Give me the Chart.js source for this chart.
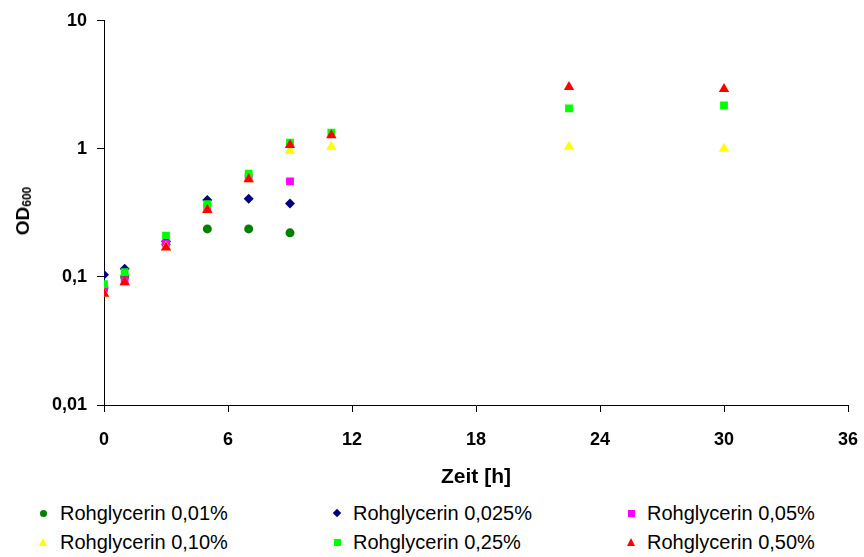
<!DOCTYPE html>
<html>
<head>
<meta charset="utf-8">
<script src="https://cdn.jsdelivr.net/npm/chart.js@4.4.1/dist/chart.umd.min.js"></script>
<style>
  html, body { margin: 0; padding: 0; background: #ffffff; }
  #wrap { position: relative; width: 864px; height: 557px; background: #fff; font-family: "Liberation Sans", Arial, sans-serif; }
  #c { position: absolute; left: 0; top: 0; }
  #ytitle { position: absolute; left: 23px; top: 211px; transform: translate(-50%, -50%) rotate(-90deg); font-weight: bold; font-size: 19px; color: #000; white-space: nowrap; }
  #ytitle sub { font-size: 12px; vertical-align: -2px; }
  .lg { position: absolute; height: 20px; line-height: 20px; font-size: 20px; color: #000; white-space: nowrap; }
  .mk { position: absolute; }
</style>
</head>
<body>
<div id="wrap">
  <canvas id="c" width="864" height="490"></canvas>
  <div id="ytitle">OD<sub>600</sub></div>
  <div id="legend"></div>
</div>
<script>
// ---- data ----
const hours = [0, 1, 3, 5, 7, 9, 11, 22.5, 30];
const seriesNames = ["Rohglycerin 0,01%", "Rohglycerin 0,025%", "Rohglycerin 0,05%", "Rohglycerin 0,10%", "Rohglycerin 0,25%", "Rohglycerin 0,50%"];
const glyc001  = [0.082, 0.100, 0.180, 0.237, 0.237, 0.221, null, null, null];
const glyc0025 = [0.104, 0.116, 0.190, 0.399, 0.408, 0.375, null, null, null];
const glyc005  = [0.081, 0.094, 0.181, 0.350, 0.600, 0.557, null, null, null];
const glyc010  = [0.074, 0.090, 0.172, 0.335, 0.580, 0.965, 1.04, 1.04, 1.00];
const glyc025  = [0.088, 0.109, 0.210, 0.370, 0.640, 1.12, 1.34, 2.07, 2.19];
const glyc050  = [0.074, 0.091, 0.170, 0.333, 0.580, 1.07, 1.28, 3.04, 2.94];
const xTicks = [0, 6, 12, 18, 24, 30, 36];
const yTicks = [0.01, 0.1, 1, 10];
const yTickLabels = ["0,01", "0,1", "1", "10"];
const xTitle = "Zeit [h]";

// ---- styles ----
const colors = ["#008000", "#000080", "#FF00FF", "#FFFF00", "#00FF00", "#FF0000"];
const styles = ["circle", "rectRot", "rect", "triangle", "rect", "triangle"];
const radii = [4.5, 5, 5.5, 6, 5.5, 6];
const allSeries = [glyc001, glyc0025, glyc005, glyc010, glyc025, glyc050];

const datasets = allSeries.map((vals, i) => ({
  label: seriesNames[i],
  data: hours.map((h, j) => ({ x: h, y: vals[j] })).filter(p => p.y !== null),
  pointStyle: styles[i],
  pointRadius: radii[i],
  pointHoverRadius: radii[i],
  backgroundColor: colors[i],
  borderColor: colors[i],
  borderWidth: 0,
  showLine: false,
  order: allSeries.length - 1 - i
}));

const tickFont = { family: '"Liberation Sans", Arial, sans-serif', size: 18, weight: 'bold' };

new Chart(document.getElementById('c'), {
  type: 'scatter',
  data: { datasets },
  options: {
    responsive: false,
    animation: false,
    devicePixelRatio: 1,
    layout: { padding: { left: 0, top: 20, right: 16, bottom: 0 } },
    plugins: { legend: { display: false }, tooltip: { enabled: false } },
    scales: {
      x: {
        type: 'linear', min: 0, max: 36,
        afterBuildTicks: s => { s.ticks = xTicks.map(v => ({ value: v })); },
        afterFit: s => { s.height = 85; s.paddingRight = 0; },
        ticks: { color: '#000', font: tickFont, padding: 17, maxRotation: 0, autoSkip: false,
                 callback: v => String(v) },
        grid: { drawOnChartArea: false, drawTicks: true, tickLength: 7, color: '#000' },
        border: { display: true, color: '#000', width: 1 },
        title: { display: true, text: xTitle, color: '#000',
                 font: { family: '"Liberation Sans", Arial, sans-serif', size: 21, weight: 'bold' },
                 padding: { top: 0, bottom: 0 } }
      },
      y: {
        type: 'logarithmic', min: 0.01, max: 10,
        afterBuildTicks: s => { s.ticks = yTicks.map(v => ({ value: v })); },
        afterFit: s => { s.width = 104; },
        ticks: { color: '#000', font: tickFont, padding: 10, autoSkip: false,
                 callback: (v, i) => yTickLabels[yTicks.indexOf(v)] ?? '' },
        grid: { drawOnChartArea: false, drawTicks: true, tickLength: 7, color: '#000' },
        border: { display: true, color: '#000', width: 1 }
      }
    }
  }
});

// ---- HTML legend (3 columns x 2 rows) ----
const colMarkX = [43, 337, 631];
const colTextX = [60, 353, 647];
const rowY = [513, 542];
const legend = document.getElementById('legend');
seriesNames.forEach((name, i) => {
  const col = i % 3, row = Math.floor(i / 3);
  const cx = colMarkX[col], cy = rowY[row];
  const m = document.createElement('div');
  m.className = 'mk';
  const st = styles[i], c = colors[i];
  if (st === 'circle') {
    Object.assign(m.style, { left: (cx - 3.5) + 'px', top: (cy - 3.5) + 'px', width: '7px', height: '7px', borderRadius: '50%', background: c });
  } else if (st === 'rectRot') {
    Object.assign(m.style, { left: (cx - 3) + 'px', top: (cy - 3) + 'px', width: '6px', height: '6px', background: c, transform: 'rotate(45deg)' });
  } else if (st === 'rect') {
    Object.assign(m.style, { left: (cx - 3.5) + 'px', top: (cy - 3.5) + 'px', width: '7px', height: '7px', background: c });
  } else {
    Object.assign(m.style, { left: (cx - 4) + 'px', top: (cy - 4) + 'px', width: '0px', height: '0px',
      borderLeft: '4px solid transparent', borderRight: '4px solid transparent', borderBottom: '8px solid ' + c });
  }
  legend.appendChild(m);
  const t = document.createElement('div');
  t.className = 'lg';
  t.textContent = name;
  t.style.left = colTextX[col] + 'px';
  t.style.top = (cy - 10) + 'px';
  legend.appendChild(t);
});
</script>
</body>
</html>
